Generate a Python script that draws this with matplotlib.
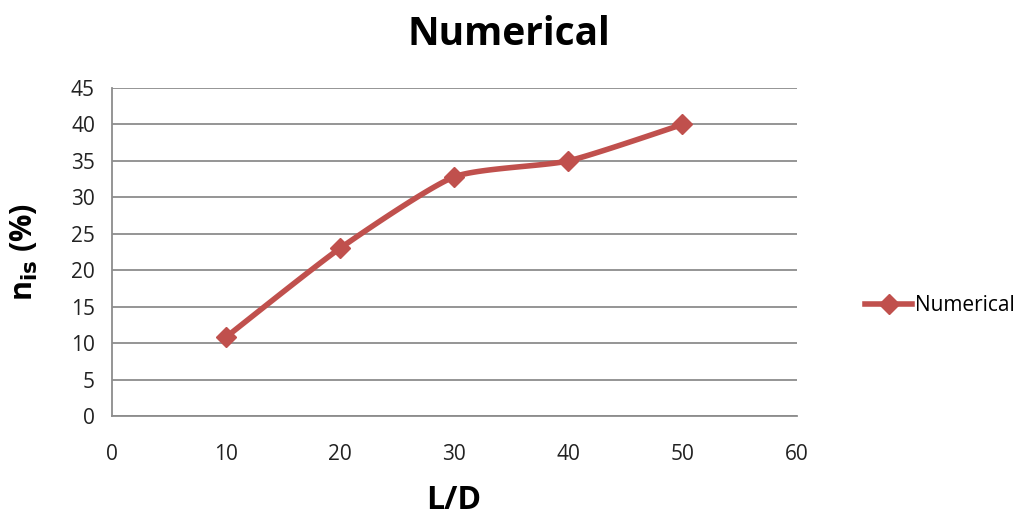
import numpy as np
import matplotlib
matplotlib.use("Agg")
import matplotlib.pyplot as plt

ld = [10, 20, 30, 40, 50]
eff = [10.8, 23.0, 32.8, 35.0, 40.0]
xticks = [0, 10, 20, 30, 40, 50, 60]
yticks = [0, 5, 10, 15, 20, 25, 30, 35, 40, 45]

RED = "#C0504D"
plt.rcParams['font.family'] = ['Open Sans', 'DejaVu Sans']


def smooth(x, y, n=30, k=0.6):
    # cardinal spline through the points, similar to excel's smoothed line
    pts = np.column_stack([x, y]).astype(float)
    ext = np.vstack([pts[0], pts, pts[-1]])
    t = np.linspace(0, 1, n)[:, None]
    h00 = 2*t**3 - 3*t**2 + 1
    h10 = t**3 - 2*t**2 + t
    h01 = -2*t**3 + 3*t**2
    h11 = t**3 - t**2
    seg = []
    for i in range(1, len(ext)-2):
        m1 = k*(ext[i+1] - ext[i-1])/2
        m2 = k*(ext[i+2] - ext[i])/2
        seg.append(h00*ext[i] + h10*m1 + h01*ext[i+1] + h11*m2)
    seg = np.vstack(seg)
    return seg[:, 0], seg[:, 1]


fig = plt.figure(figsize=(10.24, 5.23), dpi=100)
ax = fig.add_axes([0.109, 0.2046, 0.669, 0.6272])

sx, sy = smooth(ld, eff)
ax.plot(sx, sy, color=RED, lw=4, solid_capstyle='round', zorder=3)
ax.plot(ld, eff, linestyle='none', marker='D', ms=10, color=RED, zorder=4)
# proxy for legend
line, = ax.plot([], [], color=RED, lw=4, marker='D', ms=10, label='Numerical')

ax.set_xlim(0, 60)
ax.set_ylim(0, 45)
ax.set_xticks(xticks)
ax.set_yticks(yticks)
ax.grid(axis='y', color='#8c8c8c', lw=1.3)
ax.set_axisbelow(True)
for s in ['top', 'right']:
    ax.spines[s].set_visible(False)
for s in ['left', 'bottom']:
    ax.spines[s].set_color('#8c8c8c')
    ax.spines[s].set_linewidth(1.3)
ax.tick_params(length=0, labelsize=15, pad=12, colors='#222222')
ax.tick_params(axis='x', pad=20)

fig.suptitle('Numerical', x=0.497, y=0.972, fontsize=28, fontweight='bold')
ax.set_xlabel('L/D', fontsize=23, fontweight='bold', labelpad=14)
ax.set_ylabel(r'n$_{\mathbf{is}}$ (%)', fontsize=22, fontweight='bold', labelpad=22)

fig.legend(handles=[line], loc='center left', bbox_to_anchor=(0.826, 0.415),
           frameon=False, fontsize=15, handlelength=2.3, handletextpad=0.1)

fig.savefig('out.png', dpi=100)
